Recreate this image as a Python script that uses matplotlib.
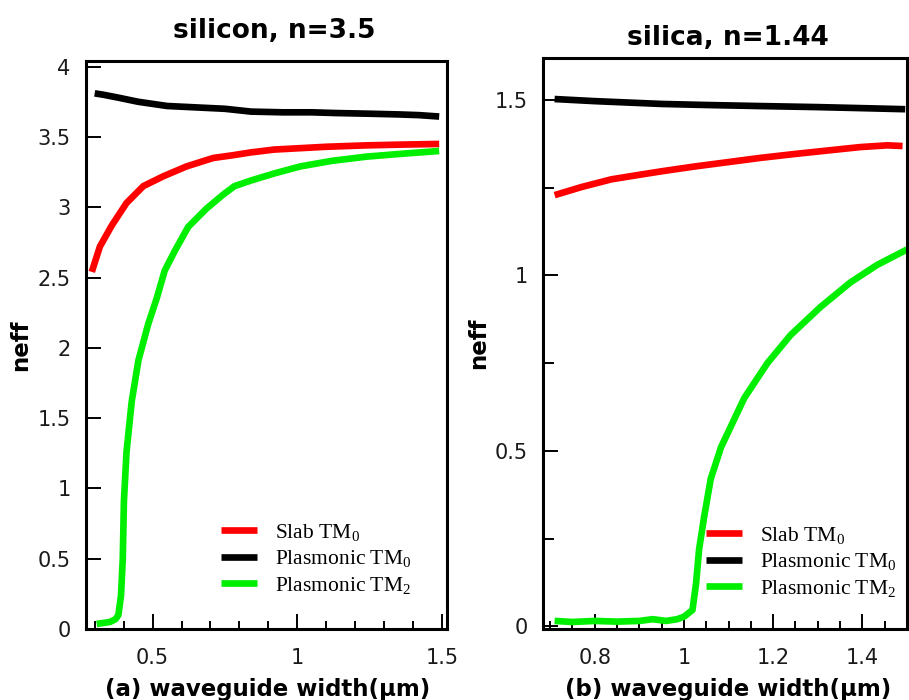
import matplotlib
matplotlib.use("Agg")
import matplotlib.pyplot as plt
from matplotlib.ticker import MultipleLocator, FuncFormatter

plt.rcParams["mathtext.fontset"] = "custom"
plt.rcParams["mathtext.rm"] = "Liberation Serif"
plt.rcParams["mathtext.it"] = "Liberation Serif:italic"
plt.rcParams["mathtext.bf"] = "Liberation Serif:bold"

# ---------- data: (a) silicon, n=3.5 ----------
si_slab_x = [0.290, 0.318, 0.359, 0.410, 0.468, 0.537, 0.617, 0.709, 0.778, 0.84, 0.92, 1.01, 1.10, 1.24, 1.35, 1.49]
si_slab_y = [2.54, 2.72, 2.87, 3.03, 3.15, 3.22, 3.29, 3.35, 3.37, 3.39, 3.41, 3.42, 3.43, 3.44, 3.445, 3.45]

si_plas0_x = [0.30, 0.33, 0.38, 0.45, 0.55, 0.65, 0.75, 0.84, 0.95, 1.05, 1.13, 1.25, 1.35, 1.42, 1.49]
si_plas0_y = [3.81, 3.80, 3.78, 3.75, 3.72, 3.71, 3.70, 3.68, 3.675, 3.675, 3.67, 3.665, 3.66, 3.655, 3.645]

si_plas2_x = [0.307, 0.353, 0.372, 0.382, 0.391, 0.397, 0.401, 0.410, 0.428, 0.451, 0.485, 0.514, 0.542, 0.577, 0.623, 0.686, 0.744, 0.783, 0.84, 0.92, 1.01, 1.12, 1.24, 1.36, 1.49]
si_plas2_y = [0.036, 0.05, 0.07, 0.10, 0.24, 0.50, 0.91, 1.26, 1.62, 1.91, 2.17, 2.35, 2.55, 2.69, 2.86, 2.99, 3.09, 3.15, 3.19, 3.24, 3.29, 3.33, 3.36, 3.38, 3.40]

# ---------- data: (b) silica, n=1.44 ----------
sio2_slab_x = [0.71, 0.77, 0.837, 0.90, 0.95, 1.02, 1.098, 1.17, 1.246, 1.32, 1.395, 1.456, 1.49]
sio2_slab_y = [1.229, 1.252, 1.274, 1.287, 1.297, 1.310, 1.323, 1.335, 1.346, 1.356, 1.366, 1.371, 1.369]

sio2_plas0_x = [0.71, 0.80, 0.95, 1.05, 1.17, 1.30, 1.40, 1.496]
sio2_plas0_y = [1.503, 1.497, 1.489, 1.486, 1.483, 1.480, 1.477, 1.474]

sio2_plas2_x = [0.71, 0.75, 0.80, 0.85, 0.90, 0.93, 0.96, 0.985, 1.0, 1.019, 1.027, 1.034, 1.045, 1.060, 1.083, 1.109, 1.135, 1.187, 1.239, 1.306, 1.373, 1.433, 1.50]
sio2_plas2_y = [0.015, 0.012, 0.015, 0.013, 0.015, 0.02, 0.015, 0.02, 0.027, 0.046, 0.12, 0.22, 0.31, 0.42, 0.51, 0.58, 0.65, 0.75, 0.83, 0.91, 0.98, 1.03, 1.074]

titles = ["silicon, n=3.5", "silica, n=1.44"]
xlabels = ["(a) waveguide width(\u03bcm)", "(b) waveguide width(\u03bcm)"]
legend_labels = ["Slab TM$_0$", "Plasmonic TM$_0$", "Plasmonic TM$_2$"]
colors = ["#ff0000", "#000000", "#00ee00"]

W, H = 909, 700
fig = plt.figure(figsize=(W / 100, H / 100), dpi=100)
fig.patch.set_facecolor("white")

def pax(l, t, r, b):
    return fig.add_axes([l / W, 1 - b / H, (r - l) / W, (b - t) / H])

ax1 = pax(86, 61, 447, 629)
ax2 = pax(543, 58, 907, 629)

fmt = FuncFormatter(lambda v, p: "%g" % round(v, 3))
tick_color = "#1a1a1a"
lw = 4.8
linekw = dict(lw=lw, solid_capstyle="butt", solid_joinstyle="round")

def style(ax, xmaj, xmin, ymaj, ymin, ymin_len):
    for s in ax.spines.values():
        s.set_linewidth(2.2)
    ax.xaxis.set_major_locator(MultipleLocator(xmaj))
    ax.xaxis.set_minor_locator(MultipleLocator(xmin))
    ax.yaxis.set_major_locator(MultipleLocator(ymaj))
    if ymin:
        ax.yaxis.set_minor_locator(MultipleLocator(ymin))
    ax.xaxis.set_major_formatter(fmt)
    ax.yaxis.set_major_formatter(fmt)
    ax.tick_params(axis="both", which="major", direction="in", length=11, width=1.4,
                   labelsize=15, labelcolor=tick_color)
    ax.tick_params(axis="x", which="major", pad=14)
    ax.tick_params(axis="y", which="major", pad=11)
    ax.tick_params(axis="x", which="minor", direction="in", length=6, width=1.4)
    ax.tick_params(axis="y", which="minor", direction="in", length=ymin_len, width=1.4)
    ax.tick_params(top=False, right=False, which="both")

# panel (a)
ax1.plot(si_slab_x, si_slab_y, color=colors[0], label=legend_labels[0], **linekw)
ax1.plot(si_plas0_x, si_plas0_y, color=colors[1], label=legend_labels[1], **linekw)
ax1.plot(si_plas2_x, si_plas2_y, color=colors[2], label=legend_labels[2], **linekw)
ax1.set_xlim(0.27, 1.517)
ax1.set_ylim(0, 4.04)
style(ax1, 0.5, 0.1, 0.5, None, 6)

# panel (b)
ax2.plot(sio2_slab_x, sio2_slab_y, color=colors[0], label=legend_labels[0], **linekw)
ax2.plot(sio2_plas0_x, sio2_plas0_y, color=colors[1], label=legend_labels[1], **linekw)
ax2.plot(sio2_plas2_x, sio2_plas2_y, color=colors[2], label=legend_labels[2], **linekw)
ax2.set_xlim(0.684, 1.5)
ax2.set_ylim(-0.008, 1.62)
style(ax2, 0.2, 0.05, 0.5, 0.25, 8)

# labels
for ax, xl, (ylx, xlx, xly) in zip((ax1, ax2), xlabels,
                                   ((-0.1496, 0.503, -0.0863), (-0.1456, 0.508, -0.0858))):
    ax.set_ylabel("neff", fontsize=16.5, fontweight="bold")
    ax.yaxis.set_label_coords(ylx, 0.5)
    ax.set_xlabel(xl, fontsize=16.5, fontweight="bold")
    ax.xaxis.set_label_coords(xlx, xly)

fig.text(274 / W, 1 - 38 / H, titles[0], fontsize=19, fontweight="bold", ha="center", va="baseline")
fig.text(728 / W, 1 - 45 / H, titles[1], fontsize=19, fontweight="bold", ha="center", va="baseline")

legkw = dict(frameon=False, prop={"family": "Liberation Serif", "size": 15.5},
             handlelength=1.65, handletextpad=0.85, labelspacing=0.25, borderaxespad=0, borderpad=0)
ax1.legend(loc="upper left", bbox_to_anchor=(221 / W, 1 - 522 / H), bbox_transform=fig.transFigure, **legkw)
ax2.legend(loc="upper left", bbox_to_anchor=(706 / W, 1 - 525 / H), bbox_transform=fig.transFigure, **legkw)

fig.savefig("out.png", dpi=100, facecolor="white")
